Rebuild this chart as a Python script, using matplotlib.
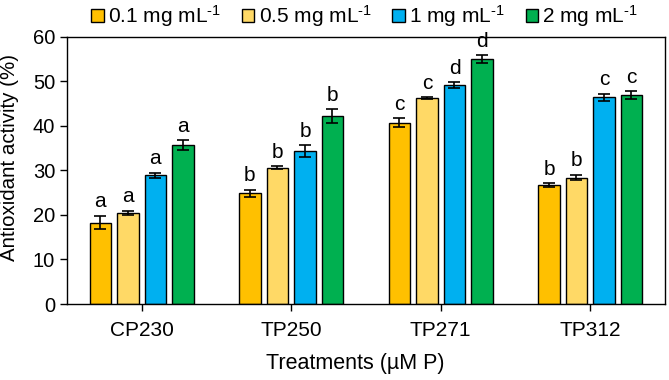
import numpy as np
import matplotlib
matplotlib.use("Agg")
import matplotlib.pyplot as plt
from matplotlib.patches import Patch

plt.rcParams["font.family"] = ["Liberation Sans", "DejaVu Sans"]
plt.rcParams["mathtext.default"] = "regular"

tratamientos = ["CP230", "TP250", "TP271", "TP312"]
dosis = ["0.1 mg mL$^{\u20101}$", "0.5 mg mL$^{\u20101}$", "1 mg mL$^{\u20101}$", "2 mg mL$^{\u20101}$"]
colores = ["#FFC000", "#FFD966", "#00B0F0", "#00B050"]

# valores por dosis (una lista por tratamiento)
d01 = [18.3, 24.9, 40.7, 26.7]
d05 = [20.5, 30.6, 46.2, 28.4]
d1 = [28.9, 34.4, 49.2, 46.4]
d2 = [35.7, 42.2, 55.0, 46.9]

e01 = [1.5, 0.8, 1.0, 0.4]
e05 = [0.4, 0.3, 0.2, 0.6]
e1 = [0.6, 1.3, 0.6, 0.8]
e2 = [1.1, 1.6, 0.9, 0.9]

l01 = ["a", "b", "c", "b"]
l05 = ["a", "b", "c", "b"]
l1 = ["a", "b", "d", "c"]
l2 = ["a", "b", "d", "c"]

valores = [d01, d05, d1, d2]
errores = [e01, e05, e1, e2]
letras = [l01, l05, l1, l2]

fig = plt.figure(figsize=(6.69, 3.8), dpi=100)
ax = fig.add_axes([0.100, 0.20, 0.894, 0.703])

x = np.arange(len(tratamientos))
ancho = 0.145
paso = 0.184
for i in range(4):
    pos = x + (i - 1.5) * paso
    ax.bar(pos, valores[i], width=ancho, color=colores[i], edgecolor="black",
           linewidth=1.0, zorder=2)
    ax.errorbar(pos, valores[i], yerr=errores[i], fmt="none", ecolor="black",
                elinewidth=1.2, capsize=4, capthick=1.2, zorder=3)
    for xp, v, e, t in zip(pos, valores[i], errores[i], letras[i]):
        ax.text(xp, v + e + 1.0, t, ha="center", va="bottom", fontsize=15)

ax.set_xlim(-0.5, 3.5)
ax.set_ylim(0, 60)
ax.set_yticks(range(0, 61, 10))
ax.set_xticks(x)
ax.set_xticklabels(tratamientos)
ax.tick_params(axis="both", length=5, width=1, direction="out")
ax.tick_params(axis="y", labelsize=14.5)
ax.tick_params(axis="x", labelsize=15, pad=7)
for s in ax.spines.values():
    s.set_linewidth(1.0)

ax.set_ylabel("Antioxidant activity (%)", fontsize=14.8)
ax.yaxis.set_label_coords(-0.080, 0.547)
ax.set_xlabel("Treatments (µM P)", fontsize=15.5)
ax.xaxis.set_label_coords(0.482, -0.185)

handles = [Patch(facecolor=c, edgecolor="black", linewidth=1.0) for c in colores]
fig.legend(handles, dosis, loc="center", bbox_to_anchor=(0.545, 0.958), ncol=4,
           frameon=False, fontsize=15, handlelength=0.6, handleheight=0.6,
           handletextpad=0.2, columnspacing=1.0)

fig.savefig("out.png", dpi=100)
